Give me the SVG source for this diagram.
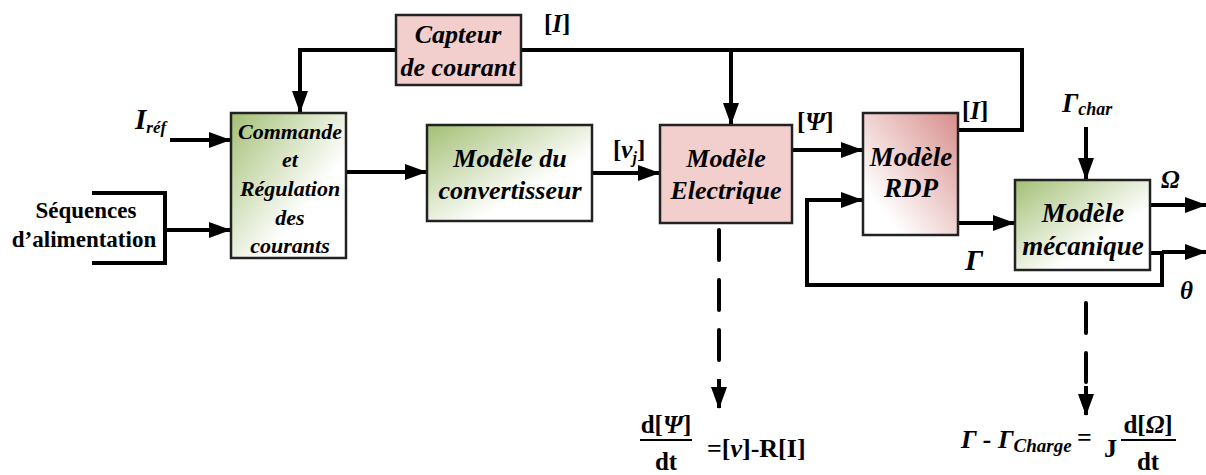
<svg xmlns="http://www.w3.org/2000/svg" width="1206" height="475" viewBox="0 0 1206 475">
<defs>
<style>
.box{stroke:#222;stroke-width:2.5}
.pink{fill:#f2cfcd}
.t{font-family:"Liberation Serif","Times New Roman",serif;font-weight:bold;font-style:italic;fill:#000;text-anchor:middle}
.n{font-family:"Liberation Serif","Times New Roman",serif;font-weight:bold;fill:#000}
.w{fill:none;stroke:#000;stroke-width:4}
.a{marker-end:url(#arr)}
.d{fill:none;stroke:#000;stroke-width:4;stroke-linecap:round;stroke-dasharray:30 20}
</style>
<linearGradient id="gGreen" x1="0" y1="0" x2="1" y2="1">
<stop offset="0" stop-color="#a3bf74"/>
<stop offset="0.65" stop-color="#ffffff"/>
</linearGradient>
<linearGradient id="gRdp" x1="1" y1="0" x2="0" y2="1">
<stop offset="0" stop-color="#d78d8b"/>
<stop offset="0.8" stop-color="#ffffff"/>
</linearGradient>
<marker id="arr" markerUnits="userSpaceOnUse" markerWidth="22" markerHeight="16" refX="21" refY="8" orient="auto">
<path d="M0,0 L22,8 L0,16 z" fill="#000"/>
</marker>
</defs>
<rect width="1206" height="475" fill="#fff"/>

<g id="connectors">
<path class="w a" d="M396,50 H300 V112"/>
<path class="w" d="M521,50 H1022 V130 H958"/>
<path class="w a" d="M731,50 V124"/>
<path class="w a" d="M170,140 H230"/>
<path class="w" d="M92,193 H165 V263 H92"/>
<path class="w a" d="M165,230 H230"/>
<path class="w a" d="M346,172 H426"/>
<path class="w a" d="M593,173 H659"/>
<path class="w a" d="M792,150 H862"/>
<path class="w a" d="M958,223 H1014"/>
<path class="w a" d="M1150,253 H1162 V285 H807 V200 H862"/>
<path class="w a" d="M1162,252 H1206"/>
<path class="w a" d="M1150,205 H1206"/>
<path class="w a" d="M1086,127 V179"/>
<path class="d" d="M719,230 V362"/>
<path class="w a" d="M719,379 V408"/>
<path class="d" d="M1086,303 V382"/>
<path class="w a" d="M1086,386 V415"/>
</g>

<g id="capteur">
<rect class="box pink" x="396" y="15" width="125" height="70"/>
<text class="t" x="458" y="43" font-size="26">Capteur</text>
<text class="t" x="458" y="76" font-size="26">de courant</text>
</g>

<g id="commande">
<rect class="box" fill="url(#gGreen)" x="231" y="113" width="115" height="145"/>
<text class="t" x="290" y="139" font-size="22">Commande</text>
<text class="t" x="290" y="167" font-size="22">et</text>
<text class="t" x="290" y="196" font-size="22">Régulation</text>
<text class="t" x="290" y="225" font-size="22">des</text>
<text class="t" x="290" y="253" font-size="22">courants</text>
</g>

<g id="convertisseur">
<rect class="box" fill="url(#gGreen)" x="427" y="125" width="165" height="96"/>
<text class="t" x="510" y="167" font-size="26">Modèle du</text>
<text class="t" x="510" y="199" font-size="26">convertisseur</text>
</g>

<g id="electrique">
<rect class="box pink" x="660" y="125" width="132" height="98"/>
<text class="t" x="726" y="167" font-size="26">Modèle</text>
<text class="t" x="726" y="199" font-size="26">Electrique</text>
</g>

<g id="rdp">
<rect class="box" fill="url(#gRdp)" x="863" y="113" width="95" height="122"/>
<text class="t" x="911" y="166" font-size="27">Modèle</text>
<text class="t" x="911" y="197" font-size="27">RDP</text>
</g>

<g id="mecanique">
<rect class="box" fill="url(#gGreen)" x="1015" y="180" width="135" height="90"/>
<text class="t" x="1083" y="222" font-size="27">Modèle</text>
<text class="t" x="1083" y="255" font-size="27">mécanique</text>
</g>

<g id="labels">
<text class="n" x="135" y="129" font-size="29" font-style="italic">I<tspan font-size="17" dy="4">réf</tspan></text>
<text class="n" x="86" y="218" font-size="23" text-anchor="middle">Séquences</text>
<text class="n" x="84" y="247" font-size="23" text-anchor="middle">d’alimentation</text>
<text class="n" x="544" y="32" font-size="25">[<tspan font-style="italic">I</tspan>]</text>
<text class="n" x="613" y="158" font-size="25">[<tspan font-style="italic">v<tspan font-size="16" dy="5">j</tspan></tspan><tspan dy="-5">]</tspan></text>
<text class="n" x="797" y="130" font-size="25">[<tspan font-style="italic">Ψ</tspan>]</text>
<text class="n" x="962" y="119" font-size="25">[<tspan font-style="italic">I</tspan>]</text>
<text class="n" x="1062" y="112" font-size="27" font-style="italic">Γ<tspan font-size="18" dy="3">char</tspan></text>
<text class="n" x="1161" y="188" font-size="25" font-style="italic">Ω</text>
<text class="n" x="1180" y="299" font-size="25" font-style="italic">θ</text>
<text class="n" x="965" y="270" font-size="30" font-style="italic">Γ</text>
</g>

<g id="formula1">
<text class="n" x="666" y="433" font-size="25" text-anchor="middle">d[<tspan font-style="italic">Ψ</tspan>]</text>
<line x1="640" y1="440" x2="692" y2="440" stroke="#000" stroke-width="2"/>
<text class="n" x="666" y="470" font-size="25" text-anchor="middle">dt</text>
<text class="n" x="707" y="457" font-size="26">=[<tspan font-style="italic">v</tspan>]-R[I]</text>
</g>

<g id="formula2">
<text class="n" x="961" y="448" font-size="26" font-style="italic">Γ - Γ<tspan font-size="19" dy="4">Charge</tspan></text>
<text class="n" x="1077" y="446" font-size="26">=</text>
<text class="n" x="1104" y="457" font-size="26">J</text>
<text class="n" x="1148" y="433" font-size="25" text-anchor="middle">d[<tspan font-style="italic">Ω</tspan>]</text>
<line x1="1121" y1="440" x2="1176" y2="440" stroke="#000" stroke-width="2"/>
<text class="n" x="1148" y="470" font-size="25" text-anchor="middle">dt</text>
</g>
</svg>
